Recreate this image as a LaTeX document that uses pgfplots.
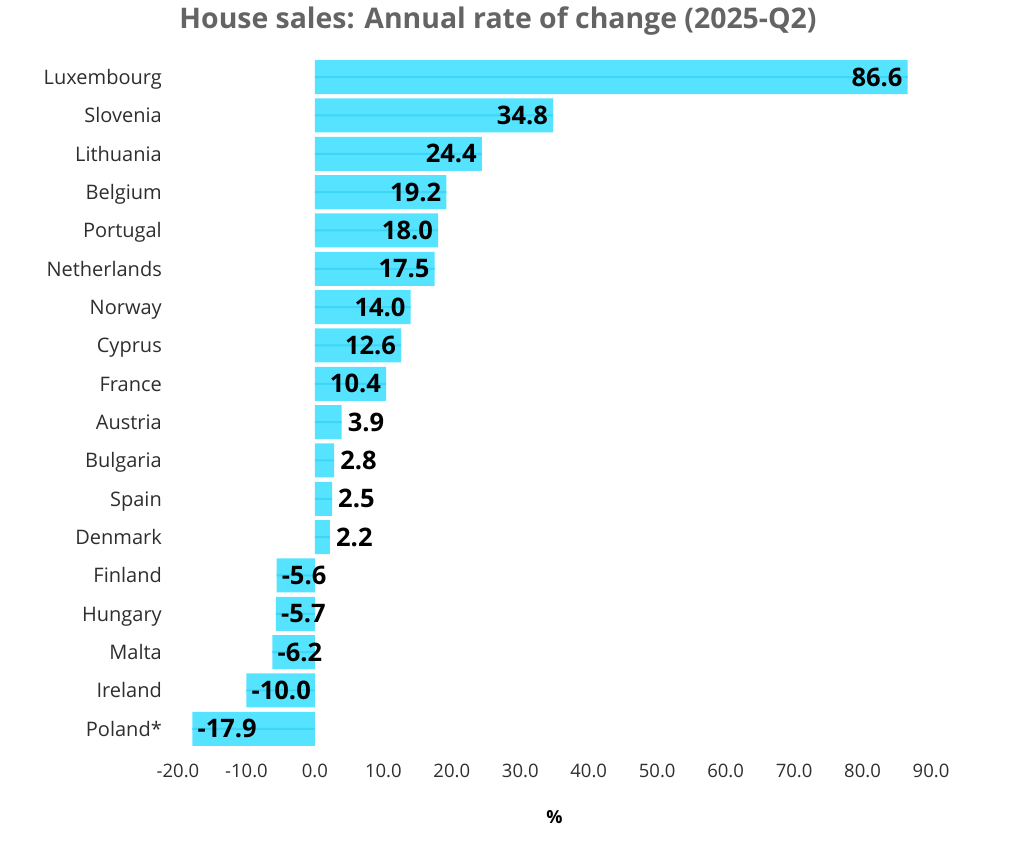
\documentclass[border=0pt]{standalone}
\usepackage{fontspec}
\setmainfont{Open Sans}
\usepackage{pgfplots}
\pgfplotsset{compat=1.18}
\usepackage{pgfplotstable}
\definecolor{barc}{HTML}{56E3FF}
\definecolor{linec}{HTML}{3DD6F6}
\definecolor{titlec}{HTML}{646464}
\definecolor{txtc}{HTML}{2E2E2E}
\pgfplotstableread{
x y label
86.6 17 86.6
34.8 16 34.8
24.4 15 24.4
19.2 14 19.2
18.0 13 18.0
17.5 12 17.5
14.0 11 14.0
12.6 10 12.6
10.4 9 10.4
}\bigpos
\pgfplotstableread{
x y label
3.9 8 3.9
2.8 7 2.8
2.5 6 2.5
2.2 5 2.2
}\smallpos
\pgfplotstableread{
x y label
-5.6 4 -5.6
-5.7 3 -5.7
-6.2 2 -6.2
-10.0 1 -10.0
-17.9 0 -17.9
}\negs
\begin{document}
\begin{tikzpicture}
\path[use as bounding box] (0,0) rectangle (1024pt,842pt);
\begin{axis}[
  at={(178pt,94pt)}, anchor=south west,
  scale only axis, width=753pt, height=690pt,
  xmin=-20, xmax=90, ymin=-0.5, ymax=17.5,
  axis line style={draw=none}, major tick length=0pt,
  xtick={-20,-10,...,90},
  xticklabels={-20.0,-10.0,0.0,10.0,20.0,30.0,40.0,50.0,60.0,70.0,80.0,90.0},
  ytick={0,...,17},
  yticklabels={Poland*,Ireland,Malta,Hungary,Finland,Denmark,Spain,Bulgaria,Austria,France,Cyprus,Norway,Netherlands,Portugal,Belgium,Lithuania,Slovenia,Luxembourg},
  xticklabel style={anchor=center, yshift=-23pt, font=\fontsize{18.5}{22}\selectfont, text=txtc},
  yticklabel style={anchor=base east, xshift=-16pt, yshift=-7.5pt, inner sep=0pt, font=\fontsize{20}{24}\selectfont, text=txtc},
  title={House sales: Annual rate of change (2025-Q2)},
  title style={at={(axis description cs:0.425,1.0445)}, anchor=center, font=\bfseries\fontsize{28.4}{32}\selectfont, text=titlec},
  xlabel={\%},
  xlabel style={at={(axis description cs:0.5,-0.1)}, anchor=center, font=\bfseries\fontsize{18}{22}\selectfont, text=black},
  clip=false,
]
\addplot[xbar, bar width=34pt, bar shift=0pt, fill=barc, draw=none] table[x=x,y=y] \bigpos;
\addplot[xbar, bar width=34pt, bar shift=0pt, fill=barc, draw=none] table[x=x,y=y] \smallpos;
\addplot[xbar, bar width=34pt, bar shift=0pt, fill=barc, draw=none] table[x=x,y=y] \negs;
\addplot[xbar, bar width=2pt, bar shift=0pt, fill=linec, draw=none] table[x=x,y=y] \bigpos;
\addplot[xbar, bar width=2pt, bar shift=0pt, fill=linec, draw=none] table[x=x,y=y] \smallpos;
\addplot[xbar, bar width=2pt, bar shift=0pt, fill=linec, draw=none] table[x=x,y=y] \negs;
\addplot[xbar, bar width=34pt, bar shift=0pt, fill=none, draw=none,
  point meta=explicit symbolic, nodes near coords={\pgfplotspointmeta},
  nodes near coords style={anchor=east, xshift=-5pt, inner sep=0pt, font=\bfseries\fontsize{25.5}{28}\selectfont, text=black}]
  table[x=x,y=y,meta=label] \bigpos;
\addplot[xbar, bar width=34pt, bar shift=0pt, fill=none, draw=none,
  point meta=explicit symbolic, nodes near coords={\pgfplotspointmeta},
  nodes near coords style={anchor=west, xshift=6pt, inner sep=0pt, font=\bfseries\fontsize{25.5}{28}\selectfont, text=black}]
  table[x=x,y=y,meta=label] \smallpos;
\addplot[xbar, bar width=34pt, bar shift=0pt, fill=none, draw=none,
  point meta=explicit symbolic, nodes near coords={\pgfplotspointmeta},
  nodes near coords style={anchor=west, xshift=5pt, inner sep=0pt, font=\bfseries\fontsize{25.5}{28}\selectfont, text=black}]
  table[x=x,y=y,meta=label] \negs;
\end{axis}
\end{tikzpicture}
\end{document}
